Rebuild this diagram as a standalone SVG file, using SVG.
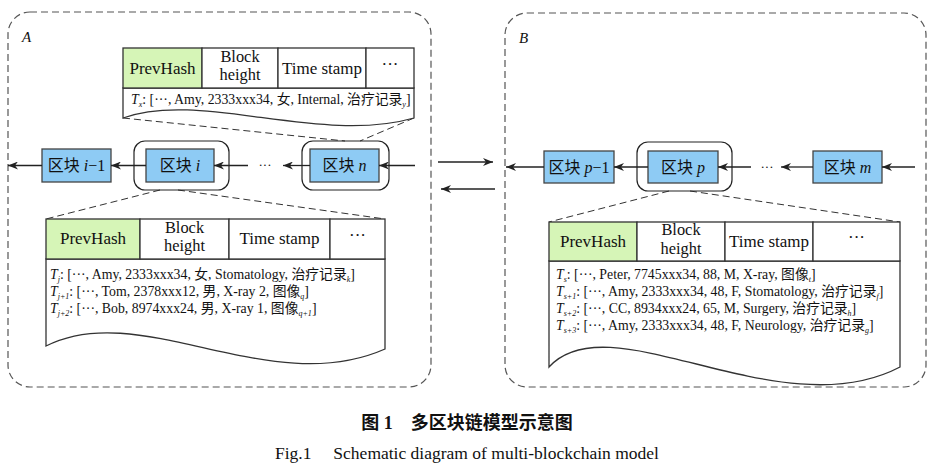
<svg xmlns="http://www.w3.org/2000/svg" width="940" height="469" viewBox="0 0 940 469" font-family="'Liberation Serif','Times New Roman',Times,'DejaVu Serif','Noto Sans CJK SC',serif">
<defs>
<style>
text{font-family:'Liberation Serif','Times New Roman',Times,'DejaVu Serif','Noto Sans CJK SC',serif;fill:#111}
.cont{fill:none;stroke:#555;stroke-width:1.2;stroke-dasharray:7 4}
.zoomln{fill:none;stroke:#333;stroke-width:1;stroke-dasharray:7 4}
.cell{fill:#fff;stroke:#333;stroke-width:1.3}
.hash{fill:#d6f5b7;stroke:#333;stroke-width:1.3}
.body{fill:#fff;stroke:#333;stroke-width:1.3}
.blk{fill:#8ecbf4;stroke:#444;stroke-width:1.3}
.ring{fill:none;stroke:#222;stroke-width:1.2}
.arr{fill:none;stroke:#222;stroke-width:1.3;marker-end:url(#ah)}
.hd{font-size:17px;text-anchor:middle}
.hd2{font-size:16.4px;text-anchor:middle}
.row{font-size:13.8px}
.bl{font-size:16px;text-anchor:middle}
.it{font-style:italic}
.sub{font-size:8px;font-style:italic}
</style>
<marker id="ah" viewBox="0 0 10 8" refX="10" refY="4" markerWidth="10" markerHeight="8" markerUnits="userSpaceOnUse" orient="auto">
<path d="M0,0 L10,4 L0,8 L3,4 z" fill="#222"/>
</marker>
</defs>

<g id="containerA">
<rect class="cont" x="8" y="12" width="423" height="375" rx="22"/>
<text class="it" x="22" y="42" font-size="15">A</text>
</g>
<g id="containerB">
<rect class="cont" x="505" y="13" width="421" height="374" rx="22"/>
<text class="it" x="519" y="43" font-size="15">B</text>
</g>

<g id="zoom-lines">
<line class="zoomln" x1="123" y1="118" x2="345" y2="141"/>
<line class="zoomln" x1="414" y1="118" x2="360" y2="141"/>
<line class="zoomln" x1="160" y1="190" x2="46" y2="219"/>
<line class="zoomln" x1="178" y1="190" x2="385" y2="219"/>
<line class="zoomln" x1="669" y1="191" x2="549" y2="222"/>
<line class="zoomln" x1="690" y1="191" x2="900" y2="222"/>
</g>

<g id="tableA-top">
<path class="body" d="M123,88 L123,118 C200,90 320,145 414,118 L414,88 Z"/>
<rect class="hash" x="123" y="48" width="79" height="40"/>
<rect class="cell" x="202" y="48" width="76" height="40"/>
<rect class="cell" x="278" y="48" width="88" height="40"/>
<rect class="cell" x="366" y="48" width="48" height="40"/>
<text class="hd" x="162.5" y="74">PrevHash</text>
<text class="hd2" x="240" y="61.5">Block</text>
<text class="hd2" x="240" y="79.9">height</text>
<text class="hd" x="322" y="74">Time stamp</text>
<text class="hd" x="390" y="70">···</text>
<text class="row" x="131" y="104"><tspan class="it">T</tspan><tspan class="sub" dy="3">x</tspan><tspan dy="-3">: [···, Amy, 2333xxx34, 女, Internal, 治疗记录</tspan><tspan class="sub" dy="3">y</tspan><tspan dy="-3">]</tspan></text>
</g>

<g id="tableA-bottom">
<path class="body" d="M46,259 L46,346 C140,298 270,400 385,349 L385,259 Z"/>
<rect class="hash" x="46" y="219" width="94" height="40"/>
<rect class="cell" x="140" y="219" width="89" height="40"/>
<rect class="cell" x="229" y="219" width="101" height="40"/>
<rect class="cell" x="330" y="219" width="55" height="40"/>
<text class="hd" x="93" y="244">PrevHash</text>
<text class="hd2" x="184.5" y="232.5">Block</text>
<text class="hd2" x="184.5" y="250.9">height</text>
<text class="hd" x="279.5" y="244">Time stamp</text>
<text class="hd" x="357.5" y="241">···</text>
<text class="row" x="50" y="279"><tspan class="it">T</tspan><tspan class="sub" dy="3">j</tspan><tspan dy="-3">: [···, Amy, 2333xxx34, 女, Stomatology, 治疗记录</tspan><tspan class="sub" dy="3">k</tspan><tspan dy="-3">]</tspan></text>
<text class="row" x="50" y="296"><tspan class="it">T</tspan><tspan class="sub" dy="3">j+1</tspan><tspan dy="-3">: [···, Tom, 2378xxx12, 男, X-ray 2, 图像</tspan><tspan class="sub" dy="3">q</tspan><tspan dy="-3">]</tspan></text>
<text class="row" x="50" y="313"><tspan class="it">T</tspan><tspan class="sub" dy="3">j+2</tspan><tspan dy="-3">: [···, Bob, 8974xxx24, 男, X-ray 1, 图像</tspan><tspan class="sub" dy="3">q+1</tspan><tspan dy="-3">]</tspan></text>
</g>

<g id="tableB-bottom">
<path class="body" d="M549,261 L549,367 C610,300 780,430 900,367 L900,261 Z"/>
<rect class="hash" x="549" y="222" width="88" height="39"/>
<rect class="cell" x="637" y="222" width="88" height="39"/>
<rect class="cell" x="725" y="222" width="88" height="39"/>
<rect class="cell" x="813" y="222" width="87" height="39"/>
<text class="hd" x="593" y="247">PrevHash</text>
<text class="hd2" x="681" y="235.3">Block</text>
<text class="hd2" x="681" y="253.7">height</text>
<text class="hd" x="769" y="247">Time stamp</text>
<text class="hd" x="856.5" y="243">···</text>
<text class="row" x="556" y="279"><tspan class="it">T</tspan><tspan class="sub" dy="3">s</tspan><tspan dy="-3">: [···, Peter, 7745xxx34, 88, M, X-ray, 图像</tspan><tspan class="sub" dy="3">t</tspan><tspan dy="-3">]</tspan></text>
<text class="row" x="556" y="296"><tspan class="it">T</tspan><tspan class="sub" dy="3">s+1</tspan><tspan dy="-3">: [···, Amy, 2333xxx34, 48, F, Stomatology, 治疗记录</tspan><tspan class="sub" dy="3">f</tspan><tspan dy="-3">]</tspan></text>
<text class="row" x="556" y="313"><tspan class="it">T</tspan><tspan class="sub" dy="3">s+2</tspan><tspan dy="-3">: [···, CC, 8934xxx24, 65, M, Surgery, 治疗记录</tspan><tspan class="sub" dy="3">h</tspan><tspan dy="-3">]</tspan></text>
<text class="row" x="556" y="330"><tspan class="it">T</tspan><tspan class="sub" dy="3">s+3</tspan><tspan dy="-3">: [···, Amy, 2333xxx34, 48, F, Neurology, 治疗记录</tspan><tspan class="sub" dy="3">g</tspan><tspan dy="-3">]</tspan></text>
</g>

<g id="block-i-1">
<rect class="blk" x="42" y="149" width="69" height="33"/>
<text class="bl" x="76.5" y="171">区块 <tspan class="it">i</tspan>−1</text>
</g>
<g id="block-i">
<rect class="ring" x="134" y="141" width="95" height="49" rx="11"/>
<rect class="blk" x="146" y="149" width="68" height="33"/>
<text class="bl" x="180" y="171">区块 <tspan class="it">i</tspan></text>
</g>
<g id="block-n">
<rect class="ring" x="302" y="141" width="87" height="49" rx="11"/>
<rect class="blk" x="310" y="149" width="69" height="33"/>
<text class="bl" x="344.5" y="171">区块 <tspan class="it">n</tspan></text>
</g>
<g id="block-p-1">
<rect class="blk" x="544" y="151" width="70" height="32"/>
<text class="bl" x="579" y="173">区块 <tspan class="it">p</tspan>−1</text>
</g>
<g id="block-p">
<rect class="ring" x="637" y="142" width="95" height="49" rx="11"/>
<rect class="blk" x="648" y="151" width="70" height="32"/>
<text class="bl" x="683" y="173">区块 <tspan class="it">p</tspan></text>
</g>
<g id="block-m">
<rect class="blk" x="813" y="151" width="69" height="32"/>
<text class="bl" x="847.5" y="173">区块 <tspan class="it">m</tspan></text>
</g>

<g id="connectors">
<line class="arr" x1="42" y1="165.5" x2="8" y2="165.5"/>
<line class="arr" x1="146" y1="165.5" x2="111" y2="165.5"/>
<line class="arr" x1="248" y1="165.5" x2="214" y2="165.5"/>
<line class="arr" x1="310" y1="165.5" x2="283" y2="165.5"/>
<line class="arr" x1="415" y1="165.5" x2="379" y2="165.5"/>
<text x="265" y="169" font-size="13" text-anchor="middle">···</text>
<line class="arr" x1="438" y1="162" x2="493" y2="162"/>
<line class="arr" x1="495" y1="189" x2="441" y2="189"/>
<line class="arr" x1="544" y1="167" x2="506" y2="167"/>
<line class="arr" x1="648" y1="167" x2="614" y2="167"/>
<line class="arr" x1="751" y1="167" x2="718" y2="167"/>
<line class="arr" x1="813" y1="167" x2="781" y2="167"/>
<line class="arr" x1="915" y1="167" x2="882" y2="167"/>
<text x="767" y="171" font-size="13" text-anchor="middle">···</text>
</g>

<g id="caption">
<text x="467" y="429" font-size="18" font-weight="bold" text-anchor="middle">图 1　多区块链模型示意图</text>
<text x="467" y="459" font-size="17.5" text-anchor="middle">Fig.1　  Schematic diagram of multi-blockchain model</text>
</g>
</svg>
